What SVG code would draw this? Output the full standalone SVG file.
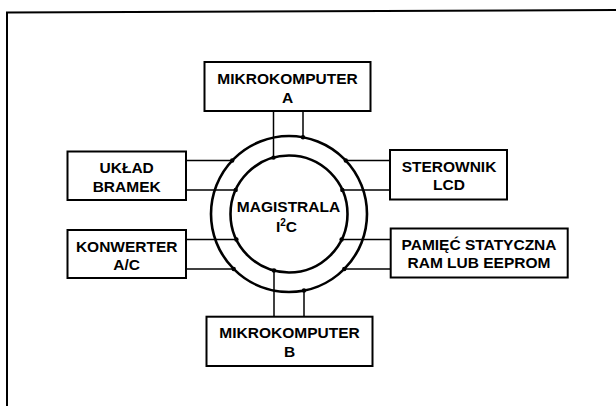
<svg xmlns="http://www.w3.org/2000/svg" width="616" height="406" viewBox="0 0 616 406">
<style>
.box{fill:#fff;stroke:#000;stroke-width:2}
.ring{fill:none;stroke:#000;stroke-width:2.6}
.wire{fill:none;stroke:#000;stroke-width:1.5}
.dot{fill:#000}
text{font-family:"Liberation Sans",Arial,sans-serif;font-weight:bold;font-size:15.5px;text-anchor:middle;fill:#000}
</style>
<rect width="616" height="406" fill="#fff"/>
<polyline points="7,406 7,12.5 616,10" fill="none" stroke="#000" stroke-width="2"/>
<g id="connectors">
<line class="wire" x1="273.5" y1="111" x2="273.5" y2="157.6"/>
<line class="wire" x1="303" y1="111" x2="303" y2="137.3"/>
<line class="wire" x1="274" y1="270.5" x2="274" y2="316.7"/>
<line class="wire" x1="304" y1="290.5" x2="304" y2="316.7"/>
<line class="wire" x1="186" y1="160.5" x2="232.2" y2="160.5"/>
<line class="wire" x1="186" y1="190" x2="235.7" y2="190"/>
<line class="wire" x1="345.8" y1="160.5" x2="390" y2="160.5"/>
<line class="wire" x1="342.3" y1="190" x2="390" y2="190"/>
<line class="wire" x1="186" y1="239.5" x2="236.4" y2="239.5"/>
<line class="wire" x1="186" y1="269" x2="233.7" y2="269"/>
<line class="wire" x1="341.6" y1="239.5" x2="391" y2="239.5"/>
<line class="wire" x1="344.3" y1="269" x2="391" y2="269"/>
<circle class="dot" cx="273.5" cy="157.6" r="2.2"/>
<circle class="dot" cx="303" cy="137.3" r="2.2"/>
<circle class="dot" cx="274" cy="270.5" r="2.2"/>
<circle class="dot" cx="304" cy="290.5" r="2.2"/>
<circle class="dot" cx="232.2" cy="160.5" r="2.2"/>
<circle class="dot" cx="235.7" cy="190" r="2.2"/>
<circle class="dot" cx="345.8" cy="160.5" r="2.2"/>
<circle class="dot" cx="342.3" cy="190" r="2.2"/>
<circle class="dot" cx="236.4" cy="239.5" r="2.2"/>
<circle class="dot" cx="233.7" cy="269" r="2.2"/>
<circle class="dot" cx="341.6" cy="239.5" r="2.2"/>
<circle class="dot" cx="344.3" cy="269" r="2.2"/>
</g>
<g id="magistrala">
<circle class="ring" cx="289" cy="214" r="78"/>
<circle class="ring" cx="289" cy="214" r="58.5"/>
<text x="288.5" y="211.5">MAGISTRALA</text>
<text x="286.5" y="231.5">I<tspan font-size="10" dy="-6">2</tspan><tspan dy="6">C</tspan></text>
</g>
<g id="mikrokomputer-a">
<rect class="box" x="204.5" y="62" width="166" height="49"/>
<text x="287.5" y="84">MIKROKOMPUTER</text>
<text x="287.5" y="102.5">A</text>
</g>
<g id="mikrokomputer-b">
<rect class="box" x="206.5" y="316.7" width="166" height="49.3"/>
<text x="289.5" y="338.3">MIKROKOMPUTER</text>
<text x="289.5" y="356.7">B</text>
</g>
<g id="uklad-bramek">
<rect class="box" x="67.5" y="151.5" width="118.5" height="48.5"/>
<text x="126.7" y="173.3">UKŁAD</text>
<text x="126.7" y="192">BRAMEK</text>
</g>
<g id="konwerter">
<rect class="box" x="67.5" y="230" width="118.5" height="48"/>
<text x="126.7" y="251.7">KONWERTER</text>
<text x="126.7" y="270">A/C</text>
</g>
<g id="sterownik">
<rect class="box" x="390" y="150" width="117" height="49.5"/>
<text x="449" y="171.7">STEROWNIK</text>
<text x="449" y="190">LCD</text>
</g>
<g id="pamiec">
<rect class="box" x="390.7" y="228.5" width="177" height="49"/>
<text x="479" y="250">PAMIĘĆ STATYCZNA</text>
<text x="479" y="268.3">RAM LUB EEPROM</text>
</g>
</svg>
